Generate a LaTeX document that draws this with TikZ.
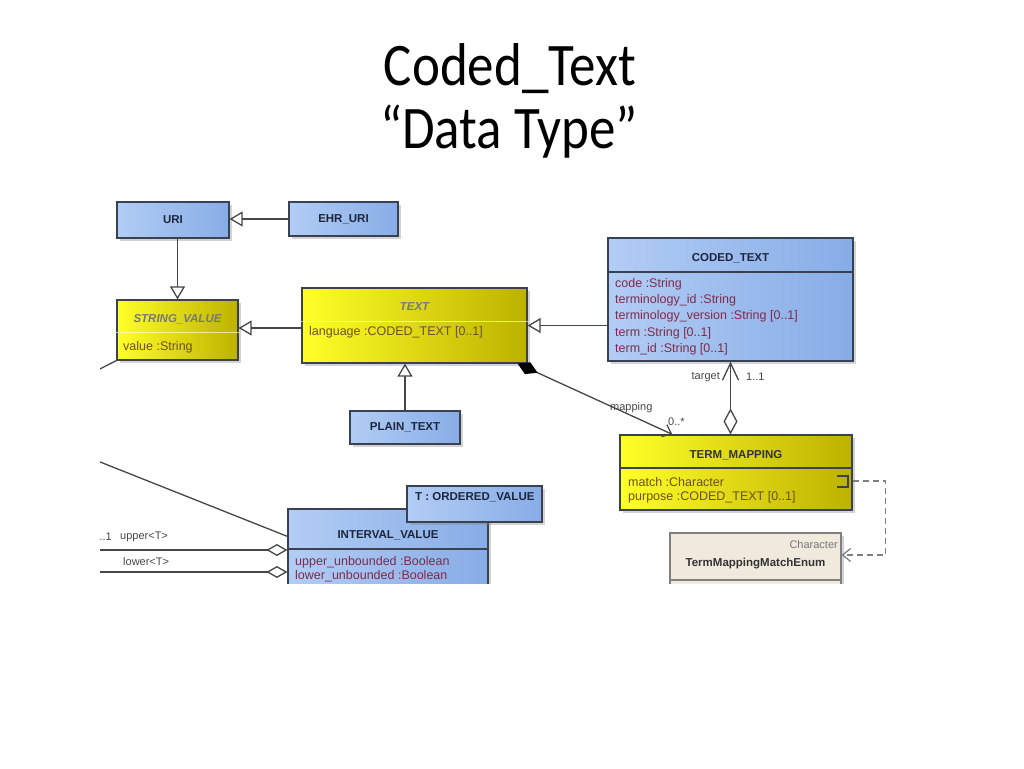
\documentclass[tikz,border=0pt]{standalone}
\usepackage{fontspec}
\setmainfont{Liberation Sans}
\newfontfamily\titlefont{Carlito}
\usetikzlibrary{arrows.meta,shadows}
\definecolor{bordc}{RGB}{58,65,80}
\definecolor{linec}{RGB}{70,70,70}
\definecolor{blueL}{RGB}{178,205,245}
\definecolor{blueR}{RGB}{135,172,230}
\definecolor{yelL}{RGB}{255,255,40}
\definecolor{yelR}{RGB}{188,178,0}
\definecolor{beige}{RGB}{240,234,220}
\definecolor{titc}{RGB}{30,38,62}
\definecolor{attb}{RGB}{128,42,72}
\definecolor{atty}{RGB}{110,80,20}
\definecolor{grayt}{RGB}{120,120,120}
\definecolor{labc}{RGB}{70,70,70}
\begin{document}
\begin{tikzpicture}[x=1pt,y=-1pt,
  cls/.style={draw=bordc, line width=1.2pt, inner sep=0pt,
    drop shadow={shadow xshift=3pt, shadow yshift=-3pt, opacity=0.35}},
  bluebox/.style={cls, left color=blueL, right color=blueR},
  yelbox/.style={cls, left color=yelL, right color=yelR},
  enumbox/.style={cls, draw=gray, fill=beige},
  ttl/.style={font=\fontsize{11.5}{13}\selectfont\bfseries, text=titc, inner sep=0pt},
  ittl/.style={font=\fontsize{11.5}{13}\selectfont\bfseries\itshape, text=grayt, inner sep=0pt},
  attB/.style={font=\fontsize{12.5}{14}\selectfont, text=attb, anchor=west, inner sep=0pt},
  attY/.style={font=\fontsize{12.5}{14}\selectfont, text=atty, anchor=west, inner sep=0pt},
  lbl/.style={font=\fontsize{11}{13}\selectfont, text=labc, inner sep=0pt},
  conn/.style={draw=linec, line width=1.3pt},
  gen/.style={conn, -{Triangle[open, length=13pt, width=15pt, fill=white]}},
  comp/.style={conn, {Diamond[length=22pt, width=13pt, fill=black, color=black]}-{Straight Barb[length=8pt, width=13pt]}},
  agg/.style={conn, {Diamond[open, length=26pt, width=14pt, fill=white]}-{Straight Barb[length=17pt, width=16pt]}},
  ivl/.style={conn, -{Diamond[open, length=21pt, width=12pt, fill=white]}},
  dep/.style={conn, draw=gray, dash pattern=on 6pt off 4pt, -{Straight Barb[length=8pt, width=13pt]}},
  sepD/.style={draw=bordc, line width=1.2pt},
  sepL/.style={draw=white, opacity=0.6, line width=0.8pt}
]
\useasboundingbox (0,0) rectangle (1024,768);
% title
\node[font=\titlefont\fontsize{53}{60}\selectfont, yscale=1.14, anchor=base, inner sep=0pt] (t1) at (510,85) {Coded\_Text};
\node[font=\titlefont\fontsize{53}{60}\selectfont, yscale=1.14, anchor=base, inner sep=0pt] (t2) at (509,148) {“Data Type”};

\begin{scope}
\clip (100,190) rectangle (893,583);
% off-image coordinates
\coordinate (offA) at (86,376);
\coordinate (offB) at (80,454);
\coordinate (offC) at (90,550);
\coordinate (offD) at (90,572);

% boxes
\node[bluebox, minimum width=112pt, minimum height=36pt] (uri) at (173,220) {};
\node[ttl] at (uri) {URI};
\node[bluebox, minimum width=109pt, minimum height=34pt] (ehr) at (343.5,219) {};
\node[ttl] at (ehr) {EHR\_URI};

\node[yelbox, minimum width=121pt, minimum height=60pt] (sv) at (177.5,330) {};
\node[ittl] at (177.5,319) {STRING\_VALUE};
\draw[sepL] (sv.west |- 0,332) -- (sv.east |- 0,332);
\node[attY] at (123,347) {value :String};

\node[yelbox, minimum width=225pt, minimum height=75pt] (text) at (414.5,325.5) {};
\node[ittl] at (414.5,307) {TEXT};
\draw[sepL] (text.west |- 0,321) -- (text.east |- 0,321);
\node[attY] at (309,332) {language :CODED\_TEXT [0..1]};

\node[bluebox, minimum width=245pt, minimum height=123pt] (coded) at (730.5,299.5) {};
\node[ttl] at (730.5,258) {CODED\_TEXT};
\draw[sepD] (coded.west |- 0,272) -- (coded.east |- 0,272);
\node[attB] at (615,284) {code :String};
\node[attB] at (615,300) {terminology\_id :String};
\node[attB] at (615,316) {terminology\_version :String [0..1]};
\node[attB] at (615,333) {term :String [0..1]};
\node[attB] at (615,349) {term\_id :String [0..1]};

\node[bluebox, minimum width=110pt, minimum height=33pt] (plain) at (405,427.5) {};
\node[ttl] at (plain) {PLAIN\_TEXT};

\node[yelbox, minimum width=232pt, minimum height=75pt] (tm) at (736,472.5) {};
\node[ttl, text=black!80] at (736,455) {TERM\_MAPPING};
\draw[sepD] (tm.west |- 0,468) -- (tm.east |- 0,468);
\node[attY] at (628,482) {match :Character};
\node[attY] at (628,497) {purpose :CODED\_TEXT [0..1]};
\draw[draw=bordc, line width=1.2pt] (837,476) -- (848,476) -- (848,487) -- (837,487);

\node[enumbox, minimum width=171pt, minimum height=60pt] (enum) at (755.5,563) {};
\node[font=\fontsize{11}{13}\selectfont, text=grayt, anchor=east, inner sep=0pt] at (838,545) {Character};
\node[ttl, text=black!80] at (755.5,564) {TermMappingMatchEnum};
\draw[draw=gray, line width=1.2pt] (enum.west |- 0,580) -- (enum.east |- 0,580);

\node[bluebox, minimum width=200pt, minimum height=120pt] (iv) at (388,569) {};
\node[ttl] at (388,535) {INTERVAL\_VALUE};
\draw[sepD] (iv.west |- 0,549) -- (iv.east |- 0,549);
\node[attB] at (295,562) {upper\_unbounded :Boolean};
\node[attB] at (295,576) {lower\_unbounded :Boolean};

\node[bluebox, minimum width=135pt, minimum height=36pt] (tpl) at (474.5,504) {};
\node[ttl, anchor=west] at (415,497) {T : ORDERED\_VALUE};

% connectors
\draw[gen] (ehr.west) -- (uri.east |- ehr.west);
\draw[gen] (uri.south -| sv.north) -- (sv.north);
\draw[gen] ([yshift=2pt]text.west |- sv.east) -- ([yshift=2pt]sv.east);
\draw[gen] (coded.west |- text.east) -- (text.east);
\draw[gen] (plain.north) -- (plain.north |- text.south);
\draw[comp] ([xshift=-10pt]text.south east) -- ([xshift=53pt]tm.north west);
\draw[agg] (tm.north -| coded.south) -- (coded.south);
\draw[dep] ([yshift=-8.5pt]tm.east) -- ++(33,0) |- ([yshift=8pt]enum.east);
\draw[conn] (sv.south west) -- (offA);
\draw[conn] (offB) -- ([yshift=-28pt]iv.north west);
\draw[ivl] (offC) -- (iv.west |- offC);
\draw[ivl] (offD) -- (iv.west |- offD);

% labels
\node[lbl, anchor=east] at (112,537) {0..1};
\node[lbl, anchor=east] at (720,377) {target};
\node[lbl, anchor=west] at (746,377) {1..1};
\node[lbl, anchor=west] at (610,408) {mapping};
\node[lbl, anchor=west] at (668,422) {0..*};
\node[lbl, anchor=west] at (120,537) {upper<T>};
\node[lbl, anchor=west] at (123,562) {lower<T>};
\end{scope}
\end{tikzpicture}
\end{document}
